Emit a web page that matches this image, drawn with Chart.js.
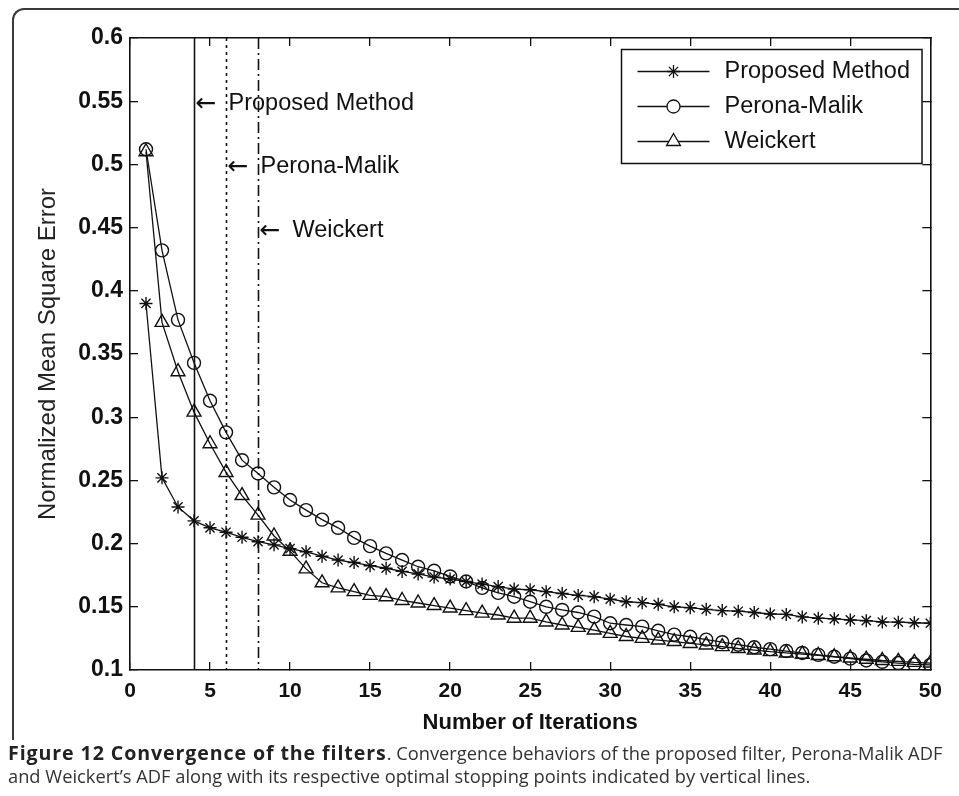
<!DOCTYPE html>
<html>
<head>
<meta charset="utf-8">
<title>Convergence of the filters</title>
<script src="https://cdn.jsdelivr.net/npm/chart.js@4.4.1/dist/chart.umd.min.js"></script>
<style>
  html, body { margin: 0; padding: 0; background: #fff; }
  body { width: 959px; height: 796px; position: relative; overflow: hidden; }
  #frame {
    position: absolute; left: 12px; top: 8px; width: 990px; height: 730px;
    border-left: 2px solid #3a3a3a; border-top: 2px solid #3a3a3a;
    border-top-left-radius: 12px;
  }
  #chart { position: absolute; left: 0; top: 0; }
  #caption {
    position: absolute; left: 8px; top: 741px; width: 951px;
    font-family: "Open Sans", sans-serif; font-size: 18.3px; line-height: 23px;
    color: #333; white-space: nowrap;
  }
  #caption b { color: #222; font-size: 19.6px; letter-spacing: 0.9px; }
</style>
</head>
<body>
<div id="frame"></div>
<canvas id="chart" width="959" height="740"></canvas>
<div id="caption"><b>Figure 12 Convergence of the filters</b>. Convergence behaviors of the proposed filter, Perona-Malik ADF<br>and Weickert’s ADF along with its respective optimal stopping points indicated by vertical lines.</div>

<script>
// ======================================
// Data
// ======================================

const iterations = [
  1, 2, 3, 4, 5, 6, 7, 8, 9, 10,
  11, 12, 13, 14, 15, 16, 17, 18, 19, 20,
  21, 22, 23, 24, 25, 26, 27, 28, 29, 30,
  31, 32, 33, 34, 35, 36, 37, 38, 39, 40,
  41, 42, 43, 44, 45, 46, 47, 48, 49, 50
];

const proposedMethod = [
  0.390, 0.252, 0.229, 0.218, 0.2125, 0.209, 0.205, 0.2015, 0.199, 0.196,
  0.1935, 0.190, 0.187, 0.185, 0.1825, 0.1805, 0.178, 0.176, 0.1735, 0.172,
  0.170, 0.168, 0.166, 0.164, 0.1635, 0.162, 0.1605, 0.159, 0.158, 0.156,
  0.154, 0.1533, 0.152, 0.150, 0.1493, 0.148, 0.147, 0.1465, 0.1455, 0.1443,
  0.144, 0.142, 0.141, 0.1405, 0.1396, 0.139, 0.138, 0.1378, 0.1374, 0.137
];

const peronaMalik = [
  0.512, 0.432, 0.377, 0.343, 0.313, 0.288, 0.266, 0.2555, 0.2445, 0.2345,
  0.2265, 0.219, 0.2125, 0.2045, 0.198, 0.1923, 0.187, 0.1817, 0.1785, 0.174,
  0.170, 0.165, 0.161, 0.158, 0.154, 0.150, 0.1475, 0.1455, 0.1422, 0.137,
  0.1356, 0.1343, 0.131, 0.128, 0.1263, 0.124, 0.122, 0.120, 0.118, 0.1165,
  0.115, 0.1135, 0.112, 0.1105, 0.109, 0.1075, 0.1065, 0.1055, 0.1045, 0.104
];

const weickert = [
  0.510, 0.375, 0.336, 0.304, 0.279, 0.2563, 0.238, 0.2225, 0.206, 0.194,
  0.180, 0.169, 0.165, 0.162, 0.159, 0.158, 0.155, 0.153, 0.151, 0.149,
  0.147, 0.145, 0.1435, 0.141, 0.141, 0.138, 0.1356, 0.1337, 0.1316, 0.129,
  0.1265, 0.125, 0.1237, 0.1225, 0.121, 0.1198, 0.1185, 0.117, 0.1158, 0.1145,
  0.1135, 0.1125, 0.1115, 0.1105, 0.1095, 0.1085, 0.1075, 0.1068, 0.106, 0.1055
];

const seriesNames = ["Proposed Method", "Perona-Malik", "Weickert"];

// optimal stopping points (vertical lines) and their labels
const stopIters = [4, 6, 8];
const stopLabels = ["Proposed Method", "Perona-Malik", "Weickert"];
const stopLabelY = [0.548, 0.498, 0.448];

const xTicks = [0, 5, 10, 15, 20, 25, 30, 35, 40, 45, 50];
const yTicks = [0.1, 0.15, 0.2, 0.25, 0.3, 0.35, 0.4, 0.45, 0.5, 0.55, 0.6];

// ======================================
// Styles
// ======================================

const INK = "#111";
const FONT = '"Liberation Sans", Arial, sans-serif';
const TEXT_SIZE = 23.5;

function toPoints(values){
    return values.map((v,i)=>({ x: iterations[i], y: v }));
}

function seriesDataset(label, values, marker, size){
    return {
        label: label,
        data: toPoints(values),
        borderColor: INK,
        borderWidth: 1.3,
        pointStyle: marker,
        pointRadius: size,
        pointHoverRadius: size,
        pointBorderColor: INK,
        pointBackgroundColor: "rgba(0,0,0,0)",
        pointBorderWidth: 1.4,
        tension: 0,
        fill: false
    };
}

// ======================================
// Plugins: stopping lines + legend box
// ======================================

const stopLines = {
    id: "stopLines",
    afterDatasetsDraw(chart){
        const { ctx, chartArea: a, scales: { x, y } } = chart;
        const dashes = [[], [3, 4], [11, 4, 2, 4]];
        ctx.save();
        ctx.strokeStyle = INK;
        ctx.fillStyle = INK;
        ctx.lineWidth = 1.6;
        ctx.textBaseline = "middle";
        stopIters.forEach((it,i)=>{
            const px = Math.round(x.getPixelForValue(it)) + 0.5;
            const py = y.getPixelForValue(stopLabelY[i]);
            ctx.setLineDash(dashes[i]);
            ctx.beginPath();
            ctx.moveTo(px, a.top);
            ctx.lineTo(px, a.bottom);
            ctx.stroke();
            ctx.setLineDash([]);
            // MATLAB-style "\leftarrow Label"
            ctx.font = '25px "DejaVu Sans", sans-serif';
            ctx.fillText("\u2190", px + 1, py + 1);
            ctx.font = TEXT_SIZE + "px " + FONT;
            ctx.fillText(stopLabels[i], px + 34, py);
        });
        ctx.restore();
    }
};

const legendBox = {
    id: "legendBox",
    afterDraw(chart){
        const { ctx, chartArea: a } = chart;
        const sets = chart.data.datasets;
        ctx.save();
        ctx.font = TEXT_SIZE + "px " + FONT;
        const textW = Math.max(...sets.map(d=>ctx.measureText(d.label).width));
        const w = 103 + textW + 12;
        const h = 114;
        const x0 = Math.round(a.right - 9 - w) + 0.5;
        const y0 = Math.round(a.top + 11) + 0.5;
        ctx.fillStyle = "#fff";
        ctx.fillRect(x0, y0, w, h);
        ctx.strokeStyle = INK;
        ctx.lineWidth = 1.5;
        ctx.strokeRect(x0, y0, w, h);
        sets.forEach((ds,i)=>{
            const yy = y0 + 22 + i * 35;
            ctx.strokeStyle = INK;
            ctx.lineWidth = 1.3;
            ctx.beginPath();
            ctx.moveTo(x0 + 16, yy);
            ctx.lineTo(x0 + 88, yy);
            ctx.stroke();
            ctx.fillStyle = "#fff";
            Chart.helpers.drawPoint(ctx, {
                pointStyle: ds.pointStyle,
                radius: ds.pointRadius,
                borderWidth: 1.4,
                rotation: 0
            }, x0 + 52, yy);
            ctx.fillStyle = INK;
            ctx.textBaseline = "middle";
            ctx.fillText(ds.label, x0 + 103, yy);
        });
        ctx.restore();
    }
};

// ======================================
// Axes
// ======================================

function axisGrid(){
    return {
        display: true,
        drawOnChartArea: false,
        drawTicks: true,
        tickLength: -8,
        color: INK,
        lineWidth: 1.3
    };
}

const axisBorder = { display: true, color: INK, width: 1.6 };

const scales = {
    x: {
        type: "linear", position: "bottom", min: 0, max: 50,
        afterBuildTicks: s=>{ s.ticks = xTicks.map(v=>({ value: v })); },
        afterFit: s=>{ s.height = 70; },
        grid: axisGrid(),
        border: axisBorder,
        ticks: { color: INK, padding: 17, maxRotation: 0,
                 font: { family: FONT, size: 21, weight: "bold" } },
        title: { display: true, text: "Number of Iterations", color: INK,
                 padding: { top: 0, bottom: 4 },
                 font: { family: FONT, size: 22, weight: "bold" } }
    },
    y: {
        type: "linear", position: "left", min: 0.1, max: 0.6,
        afterBuildTicks: s=>{ s.ticks = yTicks.map(v=>({ value: v })); },
        afterFit: s=>{ s.width = 130; },
        grid: axisGrid(),
        border: axisBorder,
        ticks: { color: INK, padding: 15,
                 callback: v=>String(+v.toFixed(2)),
                 font: { family: FONT, size: 23, weight: "bold" } },
        title: { display: true, text: "Normalized Mean Square Error", color: "#222",
                 padding: { top: 34, bottom: 0 },
                 font: { family: FONT, size: 24 } }
    },
    x2: {
        type: "linear", position: "top", min: 0, max: 50,
        afterBuildTicks: s=>{ s.ticks = xTicks.map(v=>({ value: v })); },
        afterFit: s=>{ s.height = 0; },
        grid: axisGrid(),
        border: axisBorder,
        ticks: { display: false }
    },
    y2: {
        type: "linear", position: "right", min: 0.1, max: 0.6,
        afterBuildTicks: s=>{ s.ticks = yTicks.map(v=>({ value: v })); },
        afterFit: s=>{ s.width = 0; },
        grid: axisGrid(),
        border: axisBorder,
        ticks: { display: false }
    }
};

// ======================================
// Chart
// ======================================

const chart = new Chart(document.getElementById("chart"), {
    type: "line",
    data: {
        datasets: [
            seriesDataset(seriesNames[0], proposedMethod, "star", 6.5),
            seriesDataset(seriesNames[1], peronaMalik, "circle", 6.5),
            seriesDataset(seriesNames[2], weickert, "triangle", 8)
        ]
    },
    options: {
        responsive: false,
        animation: false,
        layout: { padding: { left: 0, right: 26, top: 38, bottom: 0 } },
        scales: scales,
        plugins: {
            legend: { display: false },
            tooltip: { enabled: false }
        }
    },
    plugins: [stopLines, legendBox]
});
</script>
</body>
</html>
